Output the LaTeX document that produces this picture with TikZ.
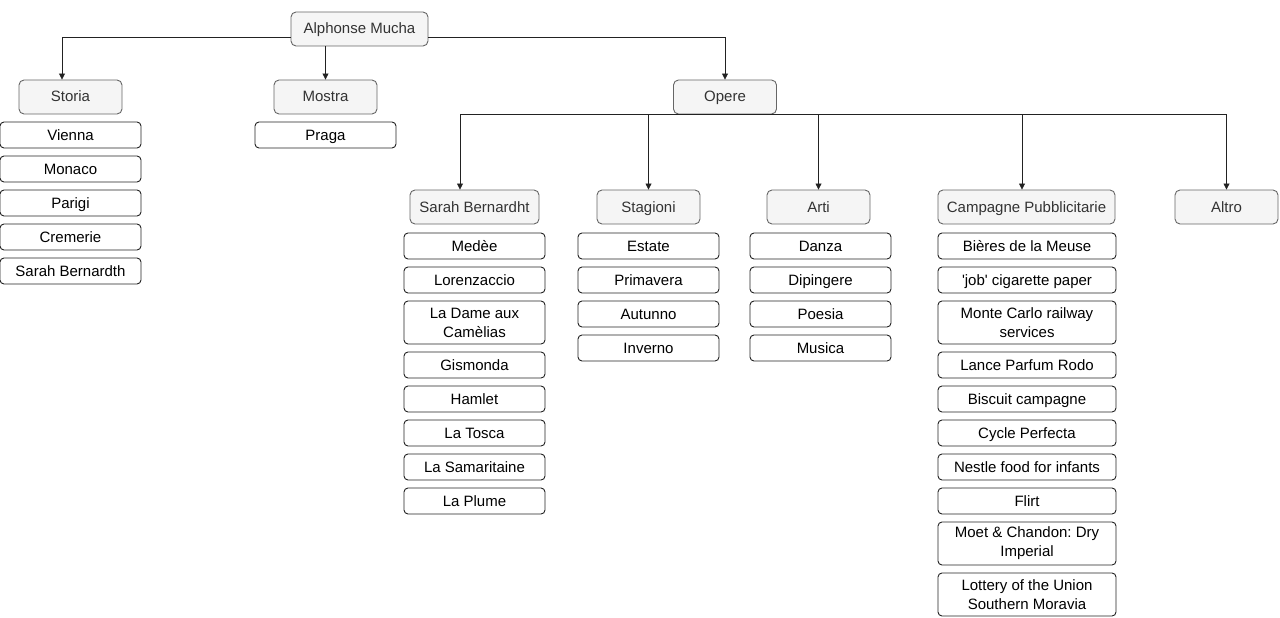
\documentclass[tikz,border=0pt]{standalone}
\usepackage{fontspec}
\setmainfont{Liberation Sans}
\usetikzlibrary{arrows.meta}
\definecolor{headfill}{HTML}{F5F5F5}
\definecolor{headline}{HTML}{666666}
\definecolor{headtext}{HTML}{333333}
\definecolor{ink}{HTML}{222222}
\frenchspacing
\tikzset{
  head/.style={draw=headline, fill=headfill, rounded corners=5, minimum width=103,
    minimum height=34, inner sep=0, text=headtext, line width=0.9,
    text height=12, text depth=2},
  leaf/.style={draw=ink, fill=white, rounded corners=4, minimum width=141,
    minimum height=26, inner sep=0, align=center, line width=0.9,
    text height=12, text depth=2},
  tallleaf/.style={leaf, minimum height=43, text height=, text depth=},
  wide/.style={minimum width=178},
  arr/.style={draw=ink, line width=0.8, -{Triangle[length=6,width=6]}}
}
\begin{document}
\begin{tikzpicture}[x=1pt, y=-1pt, font=\fontsize{15}{19}\selectfont]
\useasboundingbox (0,0) rectangle (1280,618);

% root and first level
\node[head, minimum width=137] (root) at (359.5,29) {Alphonse Mucha};
\node[head] (storia) at (70.5,97) {Storia};
\node[head] (mostra) at (325.5,97) {Mostra};
\node[head] (opere)  at (725,97) {Opere};

% Storia
\node[leaf] (vienna) at (70.5,135) {Vienna};
\node[leaf] (monaco) at (70.5,169) {Monaco};
\node[leaf] (parigi) at (70.5,203) {Parigi};
\node[leaf] (cremerie) at (70.5,237) {Cremerie};
\node[leaf] (sbstoria) at (70.5,271) {Sarah Bernardth};

% Mostra
\node[leaf] (praga) at (325.5,135) {Praga};

% Opere, second level
\node[head, minimum width=129] (sb) at (474.5,207) {Sarah Bernardht};
\node[head] (stagioni) at (648.5,207) {Stagioni};
\node[head] (arti) at (818.5,207) {Arti};
\node[head, minimum width=177] (camp) at (1026.5,207) {Campagne Pubblicitarie};
\node[head] (altro) at (1226.5,207) {Altro};

% Sarah Bernardht
\node[leaf] (medee) at (474.5,246) {Medèe};
\node[leaf] (lorenz) at (474.5,280) {Lorenzaccio};
\node[tallleaf] (dame) at (474.5,322.5) {La Dame aux\\Camèlias};
\node[leaf] (gismonda) at (474.5,365) {Gismonda};
\node[leaf] (hamlet) at (474.5,399) {Hamlet};
\node[leaf] (tosca) at (474.5,433) {La Tosca};
\node[leaf] (samar) at (474.5,467) {La Samaritaine};
\node[leaf] (plume) at (474.5,501) {La Plume};

% Stagioni
\node[leaf] (estate) at (648.5,246) {Estate};
\node[leaf] (primavera) at (648.5,280) {Primavera};
\node[leaf] (autunno) at (648.5,314) {Autunno};
\node[leaf] (inverno) at (648.5,348) {Inverno};

% Arti
\node[leaf] (danza) at (820.5,246) {Danza};
\node[leaf] (dipingere) at (820.5,280) {Dipingere};
\node[leaf] (poesia) at (820.5,314) {Poesia};
\node[leaf] (musica) at (820.5,348) {Musica};

% Campagne Pubblicitarie
\node[leaf, wide] (bieres) at (1027,246) {Bières de la Meuse};
\node[leaf, wide] (job) at (1027,280) {\textquotesingle job\textquotesingle{} cigarette paper};
\node[tallleaf, wide] (monte) at (1027,322.5) {Monte Carlo railway\\services};
\node[leaf, wide] (lance) at (1027,365) {Lance Parfum Rodo};
\node[leaf, wide] (biscuit) at (1027,399) {Biscuit campagne};
\node[leaf, wide] (cycle) at (1027,433) {Cycle Perfecta};
\node[leaf, wide] (nestle) at (1027,467) {Nestle food for infants};
\node[leaf, wide] (flirt) at (1027,501) {Flirt};
\node[tallleaf, wide] (moet) at (1027,543.5) {Moet \& Chandon: Dry\\Imperial};
\node[tallleaf, wide] (lottery) at (1027,594.5) {Lottery of the Union\\Southern Moravia};

% connectors
\draw[arr] ([yshift=-8]root.west) -| ([xshift=-8.5]storia.north);
\draw[arr] (root.south -| mostra.north) -- (mostra.north);
\draw[arr] ([yshift=-8]root.east) -| (opere.north);

\draw[arr] (opere.south) -| ([xshift=-14.5]sb.north);
\draw[arr] (opere.south) -| (stagioni.north);
\draw[arr] (opere.south) -| (arti.north);
\draw[arr] (opere.south) -| ([xshift=-4.5]camp.north);
\draw[arr] (opere.south) -| (altro.north);
\end{tikzpicture}
\end{document}
